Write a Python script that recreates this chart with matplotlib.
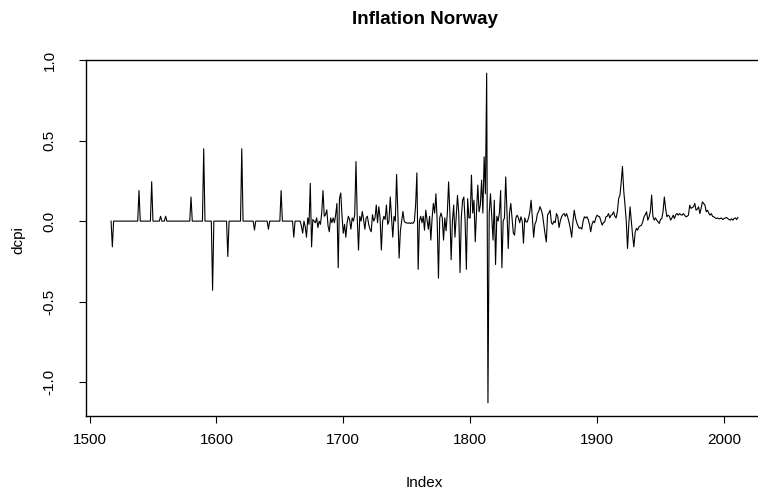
import matplotlib
matplotlib.use("Agg")
import matplotlib.pyplot as plt
import numpy as np

plt.rcParams['font.family'] = ['Liberation Sans', 'DejaVu Sans']

# annual log-difference of the Norwegian CPI
first_year = 1517
dcpi = [
    # 1517-1526
    0, -0.16, 0, 0, 0, 0, 0, 0, 0, 0,
    # 1527-1536
    0, 0, 0, 0, 0, 0, 0, 0, 0, 0,
    # 1537-1546
    0, 0, 0.19, 0, 0, 0, 0, 0, 0, 0,
    # 1547-1556
    0, 0, 0.245, 0, 0, 0, 0, 0, 0, 0.03,
    # 1557-1566
    0, 0, 0, 0.03, 0, 0, 0, 0, 0, 0,
    # 1567-1576
    0, 0, 0, 0, 0, 0, 0, 0, 0, 0,
    # 1577-1586
    0, 0, 0, 0.15, 0, 0, 0, 0, 0, 0,
    # 1587-1596
    0, 0, 0, 0.45, 0, 0, 0, 0, 0, 0,
    # 1597-1606
    -0.43, 0, 0, 0, 0, 0, 0, 0, 0, 0,
    # 1607-1616
    0, 0, -0.22, 0, 0, 0, 0, 0, 0, 0,
    # 1617-1626
    0, 0, 0, 0.45, 0, 0, 0, 0, 0, 0,
    # 1627-1636
    0, 0, 0, -0.055, 0, 0, 0, 0, 0, 0,
    # 1637-1646
    0, 0, 0, 0, -0.05, 0, 0, 0, 0, 0,
    # 1647-1656
    0, 0, 0, 0, 0.19, 0, 0, 0, 0, 0,
    # 1657-1666
    0, 0, 0, 0, -0.1, 0, 0, 0, 0, 0,
    # 1667-1676
    -0.03, -0.075, 0.0, -0.035, -0.1, 0.02, -0.02, 0.235, -0.16, 0.01,
    # 1677-1686
    0.0, -0.01, 0.02, -0.04, 0.0, -0.02, 0.05, 0.19, 0.03, 0.04,
    # 1687-1696
    0.07, -0.03, -0.066, 0.02, -0.01, 0.02, -0.01, 0.04, 0.11, -0.29,
    # 1697-1706
    0.14, 0.175, 0.03, -0.075, -0.02, -0.1, -0.01, 0.03, 0.01, -0.05,
    # 1707-1716
    0.02, 0.0, 0.04, 0.37, 0.02, -0.18, 0.03, 0.0, 0.06, 0.01,
    # 1717-1726
    -0.05, 0.02, 0.03, -0.02, -0.05, -0.066, 0.04, 0.0, 0.02, 0.1,
    # 1727-1736
    -0.01, 0.09, 0.02, -0.18, 0.0, 0.03, 0.01, 0.1, -0.02, 0.0,
    # 1737-1746
    0.15, 0.02, -0.1, 0.03, 0.0, 0.29, 0.05, -0.23, -0.06, 0.0,
    # 1747-1756
    0.06, 0.0, -0.01, -0.01, -0.014, -0.01, -0.015, -0.01, -0.014, 0.0,
    # 1757-1766
    0.1, 0.30, -0.30, 0.0, 0.03, -0.01, 0.03, -0.056, 0.068, 0.01,
    # 1767-1776
    -0.05, 0.03, -0.118, 0.02, 0.11, 0.05, 0.17, 0.0, -0.355, 0.02,
    # 1777-1786
    0.05, 0.02, -0.118, 0.02, -0.06, 0.05, 0.244, 0.05, -0.24, 0.0,
    # 1787-1796
    0.1, -0.1, 0.03, 0.16, 0.05, -0.32, 0.02, 0.13, 0.15, 0.0,
    # 1797-1806
    -0.30, 0.14, 0.02, 0.02, 0.286, 0.05, 0.13, -0.128, 0.06, 0.224,
    # 1807-1816
    0.058, 0.1, 0.255, 0.05, 0.40, 0.17, 0.92, -1.13, 0.05, 0.17,
    # 1817-1826
    0.02, -0.118, 0.13, -0.27, 0.03, 0.0, 0.05, 0.19, -0.29, 0.0,
    # 1827-1836
    0.02, 0.275, 0.05, -0.17, 0.05, 0.11, 0.02, -0.075, -0.087, 0.02,
    # 1837-1846
    0.037, 0.02, -0.01, 0.027, 0.0, -0.137, 0.02, -0.005, -0.005, 0.02,
    # 1847-1856
    0.058, 0.13, 0.02, -0.1, -0.02, 0.0, 0.047, 0.06, 0.09, 0.07,
    # 1857-1866
    0.04, -0.02, -0.08, -0.13, 0.04, 0.05, 0.068, -0.01, -0.02, 0.0,
    # 1867-1876
    -0.01, 0.047, 0.03, -0.04, 0.0, 0.027, 0.04, 0.047, 0.03, 0.047,
    # 1877-1886
    0.02, -0.01, -0.05, -0.1, 0.0, 0.068, 0.02, -0.01, -0.03, -0.045,
    # 1887-1896
    -0.04, -0.05, 0.0, 0.027, 0.02, 0.027, 0.01, -0.02, -0.066, -0.02,
    # 1897-1906
    0.0, -0.01, 0.02, 0.037, 0.03, 0.027, 0.0, -0.025, -0.01, -0.005,
    # 1907-1916
    0.027, 0.03, 0.047, 0.02, 0.037, 0.04, 0.058, 0.03, 0.02, 0.06,
    # 1917-1926
    0.14, 0.16, 0.24, 0.34, 0.19, 0.1, 0.0, -0.17, -0.02, 0.089,
    # 1927-1936
    0.0, -0.09, -0.16, -0.07, -0.045, -0.056, -0.035, -0.03, -0.025, -0.004,
    # 1937-1946
    0.027, 0.04, 0.058, 0.006, 0.027, 0.06, 0.162, 0.03, 0.006, 0.02,
    # 1947-1956
    0.006, -0.004, -0.014, 0.01, 0.016, 0.06, 0.15, 0.08, 0.027, 0.037,
    # 1957-1966
    0.03, 0.006, 0.02, 0.037, 0.016, 0.04, 0.047, 0.037, 0.047, 0.04,
    # 1967-1976
    0.037, 0.047, 0.037, 0.027, 0.03, 0.037, 0.099, 0.079, 0.085, 0.089,
    # 1977-1986
    0.11, 0.068, 0.075, 0.089, 0.047, 0.08, 0.12, 0.11, 0.1, 0.058,
    # 1987-1996
    0.068, 0.05, 0.037, 0.047, 0.03, 0.027, 0.02, 0.016, 0.02, 0.014,
    # 1997-2006
    0.016, 0.02, 0.01, 0.015, 0.02, 0.023, 0.016, 0.01, 0.006, 0.015,
    # 2007-2011
    0.006, 0.016, 0.02, 0.01, 0.023,
]
years = np.arange(first_year, first_year + len(dcpi))

x_ticks = [1500, 1600, 1700, 1800, 1900, 2000]
y_ticks = [-1.0, -0.5, 0.0, 0.5, 1.0]

W, H = 758, 495
fig = plt.figure(figsize=(W / 100, H / 100), dpi=100)
# plot box in pixels: left 86, top 60, bottom 416, right edge past the image
ax = fig.add_axes([86 / W, (H - 416) / H, (763 - 86) / W, (416 - 60) / H])

ax.plot(years, dcpi, color='black', lw=0.8)

# R-style 4% padding around the data range
xr = years.max() - years.min()
ax.set_xlim(years.min() - 0.04 * xr, years.max() + 0.04 * xr)
yr = max(dcpi) - min(dcpi)
ax.set_ylim(min(dcpi) - 0.04 * yr, max(dcpi) + 0.04 * yr)

ax.set_xticks(x_ticks)
ax.set_xticklabels([str(t) for t in x_ticks])
ax.set_yticks(y_ticks)
ax.set_yticklabels([f'{t:.1f}' for t in y_ticks], rotation=90, va='center')

ax.tick_params(direction='out', length=5, width=0.8, labelsize=11,
               colors='black')
ax.tick_params(axis='x', pad=7)
ax.tick_params(axis='y', pad=16)
for s in ['left', 'bottom', 'top']:
    ax.spines[s].set_linewidth(1.0)
ax.spines['right'].set_visible(False)

fig.text(424.5 / W, 1 - 20 / H, 'Inflation Norway', ha='center', va='center',
         fontsize=13.5, fontweight='bold')
fig.text(424.5 / W, 1 - 483 / H, 'Index', ha='center', va='center', fontsize=11)
fig.text(18 / W, 1 - 240 / H, 'dcpi', ha='center', va='center', fontsize=11,
         rotation=90)

fig.savefig('out.png', dpi=100)
